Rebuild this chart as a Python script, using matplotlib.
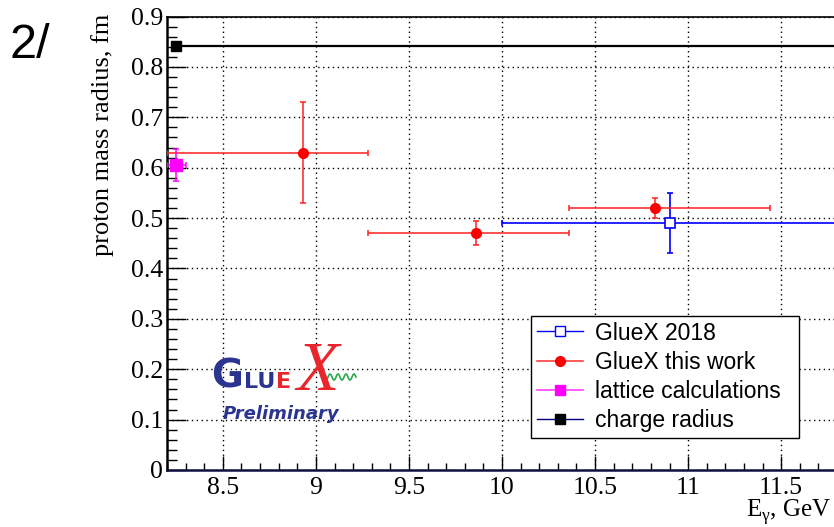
import numpy as np
import matplotlib
matplotlib.use("Agg")
import matplotlib.pyplot as plt
from matplotlib.lines import Line2D
from matplotlib.ticker import MultipleLocator, FuncFormatter

# GlueX, this work: three photon-energy bins
e_this = [8.93, 9.86, 10.82]
e_this_lo = [8.20, 9.28, 10.36]
e_this_hi = [9.28, 10.36, 11.44]
r_this = [0.63, 0.47, 0.52]
r_this_err = [0.10, 0.024, 0.02]

# GlueX 2018, single wide bin
e_2018 = [10.90]
e_2018_lo = [10.00]
e_2018_hi = [11.80]
r_2018 = [0.49]
r_2018_err = [0.06]

# lattice calculations
e_lat = [8.25]
e_lat_err = [0.05]
r_lat = [0.606]
r_lat_err = [0.032]

# proton charge radius reference
e_charge = [8.25]
e_charge_hi = [12.5]
r_charge = [0.841]

x_ticks = [8.5, 9, 9.5, 10, 10.5, 11, 11.5]
y_ticks = [0, 0.1, 0.2, 0.3, 0.4, 0.5, 0.6, 0.7, 0.8, 0.9]

legend_labels = ["GlueX 2018", "GlueX this work", "lattice calculations", "charge radius"]

W, H = 834, 527
fig = plt.figure(figsize=(W / 100, H / 100), dpi=100)
ax = fig.add_axes([167 / W, 57 / H, 670 / W, 453.5 / H])

serif = "Liberation Serif"
sans = "Liberation Sans"


def xspan(x, lo, hi):
    return [np.subtract(x, lo), np.subtract(hi, x)]


ax.errorbar(e_charge, r_charge, xerr=[[0], np.subtract(e_charge_hi, e_charge)],
            fmt="s", color="black", ms=7.5, lw=1.6, capsize=0, zorder=3)
ax.errorbar(e_2018, r_2018, xerr=xspan(e_2018, e_2018_lo, e_2018_hi), yerr=r_2018_err,
            fmt="s", color="blue", mfc="white", mec="blue", mew=1.2, ms=7.5,
            lw=1.2, capsize=2.5, capthick=1.2, zorder=4)
ax.errorbar(e_this, r_this, xerr=xspan(e_this, e_this_lo, e_this_hi), yerr=r_this_err,
            fmt="o", color="red", ecolor="#ff2020", ms=7, lw=1.1, capsize=2.5,
            capthick=1.1, zorder=5)
ax.errorbar(e_lat, r_lat, xerr=e_lat_err, yerr=r_lat_err, fmt="s", color="magenta",
            ms=8, lw=1.1, capsize=2.5, capthick=1.1, zorder=5)

ax.set_xlim(8.2, 11.8)
ax.set_ylim(0, 0.9)
ax.set_xticks(x_ticks)
ax.set_yticks(y_ticks)
ax.xaxis.set_minor_locator(MultipleLocator(0.1))
ax.yaxis.set_minor_locator(MultipleLocator(0.02))
fmt = FuncFormatter(lambda v, p: f"{v:g}")
ax.xaxis.set_major_formatter(fmt)
ax.yaxis.set_major_formatter(fmt)

ax.grid(True, which="major", color="black", linestyle=(0, (1, 2.5)), linewidth=1.0)
ax.set_axisbelow(True)

ax.tick_params(axis="both", which="both", direction="in", top=False, right=False,
               width=1.0, labelsize=18.5)
ax.tick_params(axis="y", which="major", length=14, pad=3)
ax.tick_params(axis="y", which="minor", length=7)
ax.tick_params(axis="x", which="major", length=10, pad=5)
ax.tick_params(axis="x", which="minor", length=5)
for lab in ax.get_xticklabels() + ax.get_yticklabels():
    lab.set_fontfamily(serif)

for side in ("left", "bottom"):
    ax.spines[side].set_linewidth(1.8)
ax.spines["bottom"].set_color("#101040")
ax.spines["top"].set_linewidth(1.2)
ax.spines["right"].set_visible(False)

fig.text(103 / W, 1 - 14 / H, "proton mass radius, fm", rotation=90, ha="center",
         va="top", fontsize=19, family=serif)
plt.rcParams["mathtext.fontset"] = "custom"
plt.rcParams["mathtext.rm"] = serif
fig.text(831 / W, 1 - 517 / H, r"E$_{\mathrm{\gamma}}$, GeV", ha="right", va="baseline",
         fontsize=18, family=serif)

fig.text(10 / W, 1 - 46 / H, "2/", ha="left", va="center", fontsize=35, family=sans)

handles = [
    Line2D([], [], color="blue", marker="s", mfc="white", mec="blue", ms=7, lw=1),
    Line2D([], [], color="#ff4040", marker="o", mfc="red", mec="red", ms=7, lw=1.2),
    Line2D([], [], color="#ff40ff", marker="s", mfc="magenta", mec="magenta", ms=7, lw=1.2),
    Line2D([], [], color="#000080", marker="s", mfc="black", mec="black", ms=7, lw=1),
]
leg = ax.legend(handles, legend_labels, loc="lower left",
                bbox_to_anchor=(0.544, 0.071, 0.4, 0.266), mode="expand",
                borderaxespad=0, fancybox=False, framealpha=1, edgecolor="black",
                prop={"family": sans, "size": 16.5}, handlelength=2.0,
                handletextpad=0.5, labelspacing=0.27, borderpad=0.25)
leg.get_frame().set_linewidth(1.0)

# experiment badge
navy = "#2b3590"
fig.text(211 / W, 1 - 388 / H, "G", color=navy, fontsize=28, fontweight="bold",
         family="DejaVu Sans", va="baseline", ha="left")
fig.text(244 / W, 1 - 388 / H, "LU", color=navy, fontsize=16, fontweight="bold",
         family="DejaVu Sans", va="baseline", ha="left")
fig.text(276 / W, 1 - 388 / H, "E", color="#e8262b", fontsize=16, fontweight="bold",
         family="DejaVu Sans", va="baseline", ha="left")
fig.text(318 / W, 1 - 373 / H, "X", color="#e8262b", fontsize=50, style="italic",
         family=serif, va="center", ha="center")
wx = np.linspace(324, 356, 80)
wy = 377 + 3 * np.sin((wx - 324) / 32 * 2 * np.pi * 4)
fig.add_artist(Line2D(wx / W, 1 - wy / H, color="#2aa84a", lw=1.2))
fig.text(281 / W, 1 - 414 / H, "Preliminary", color=navy, fontsize=13,
         fontweight="bold", style="italic", family="DejaVu Sans", va="center",
         ha="center")

fig.savefig("out.png", dpi=100)
